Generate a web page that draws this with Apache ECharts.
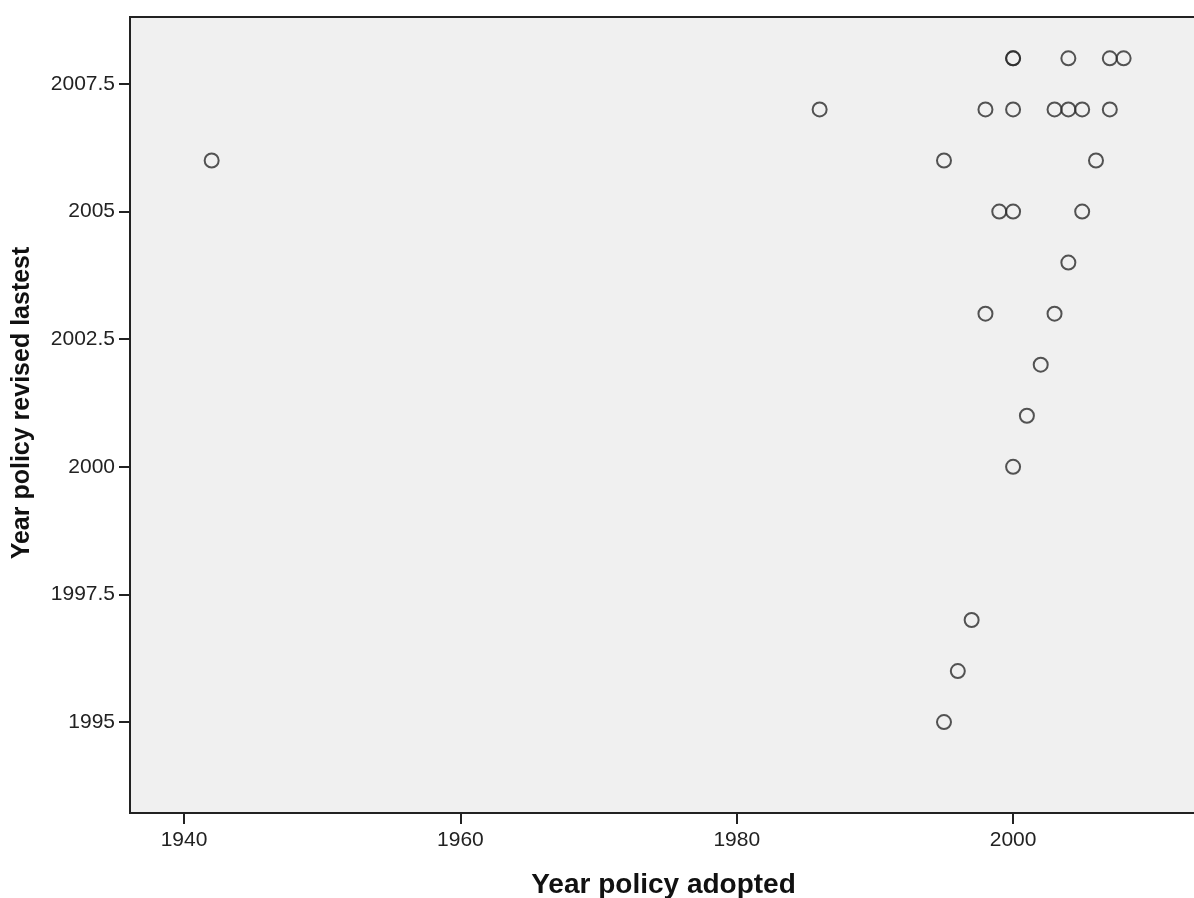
<!DOCTYPE html>
<html>
<head>
<meta charset="utf-8">
<script src="https://cdn.jsdelivr.net/npm/echarts@6/dist/echarts.min.js"></script>
<style>
html,body{margin:0;padding:0;background:#fff;}
#chart{width:1194px;height:898px;}
</style>
</head>
<body>
<div id="chart"></div>
<script>
// Year policy adopted (x) and year policy revised lastest (y)
const adopted = [1942, 1986, 1995, 1998, 2000, 2000, 2000, 2003, 2004, 2005, 2007, 2004, 2007, 2008,
                 2006, 1999, 2000, 2005, 2004, 1998, 2003, 2002, 2001, 2000, 1997, 1996, 1995];
const revised = [2006, 2007, 2006, 2007, 2007, 2008, 2008, 2007, 2007, 2007, 2007, 2008, 2008, 2008,
                 2006, 2005, 2005, 2005, 2004, 2003, 2003, 2002, 2001, 2000, 1997, 1996, 1995];
const xTicks = [1940, 1960, 1980, 2000];
const yTicks = [1995, 1997.5, 2000, 2002.5, 2005, 2007.5];
const xTitle = 'Year policy adopted';
const yTitle = 'Year policy revised lastest';

const points = adopted.map((a, i) => [a, revised[i]]);
const font = 'Liberation Sans, Arial, sans-serif';

const chart = echarts.init(document.getElementById('chart'));
chart.setOption({
  animation: false,
  backgroundColor: '#ffffff',
  grid: {
    left: 130, right: -3, top: 17, bottom: 85,
    containLabel: false, outerBoundsMode: 'none',
    show: true, backgroundColor: '#f0f0f0', borderColor: '#222', borderWidth: 2
  },
  xAxis: {
    type: 'value', min: 1936.09, max: 2013.31,
    name: xTitle, nameLocation: 'middle', nameGap: 58,
    nameTextStyle: { fontFamily: font, fontSize: 28, fontWeight: 'bold', color: '#111' },
    axisLine: { show: true, onZero: false, lineStyle: { color: '#222', width: 2 } },
    axisTick: { show: true, customValues: xTicks, length: 11, lineStyle: { color: '#222', width: 2 } },
    axisLabel: { customValues: xTicks, fontFamily: font, fontSize: 21, color: '#222', margin: 17,
      formatter: v => String(v) },
    splitLine: { show: false }
  },
  yAxis: {
    type: 'value', min: 1993.22, max: 2008.81,
    name: yTitle, nameLocation: 'middle', nameGap: 95,
    nameTextStyle: { fontFamily: font, fontSize: 25, fontWeight: 'bold', color: '#111', padding: [0, 0, 0, 24] },
    axisLine: { show: true, onZero: false, lineStyle: { color: '#222', width: 2 } },
    axisTick: { show: true, customValues: yTicks, length: 11, lineStyle: { color: '#222', width: 2 } },
    axisLabel: { customValues: yTicks, fontFamily: font, fontSize: 21, color: '#222', margin: 15,
      formatter: v => String(v) },
    splitLine: { show: false }
  },
  series: [{
    type: 'scatter',
    data: points,
    symbol: 'circle',
    symbolSize: 14,
    itemStyle: { color: 'rgba(0,0,0,0)', borderColor: '#2a2a2a', borderWidth: 2 }
  }]
});
</script>
</body>
</html>
